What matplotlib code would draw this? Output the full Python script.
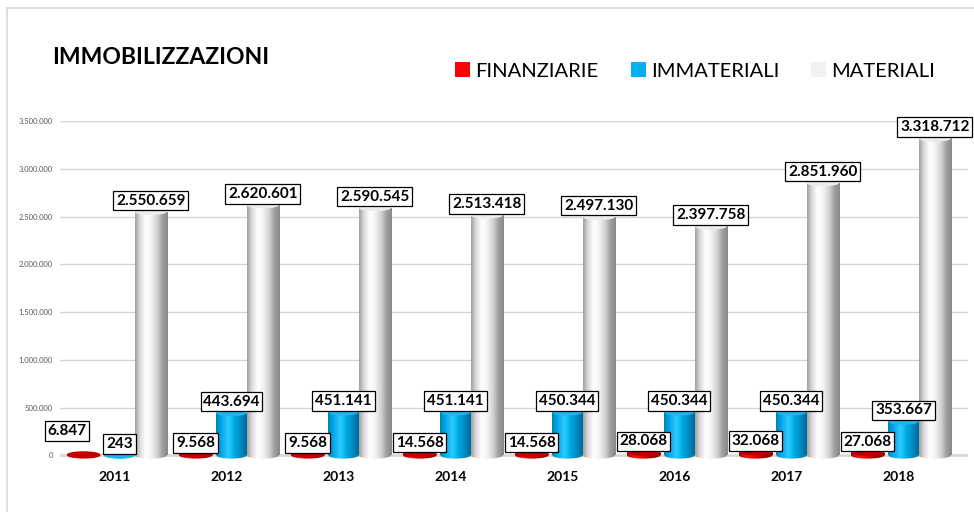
import numpy as np
import matplotlib
matplotlib.use("Agg")
import matplotlib.pyplot as plt
from matplotlib.colors import LinearSegmentedColormap
from matplotlib.patches import Rectangle, Ellipse, Patch
from matplotlib.lines import Line2D

plt.rcParams['font.family'] = ['Lato', 'DejaVu Sans']

years = ['2011', '2012', '2013', '2014', '2015', '2016', '2017', '2018']
finanziarie = [6847, 9568, 9568, 14568, 14568, 28068, 32068, 27068]
immateriali = [243, 443694, 451141, 451141, 450344, 450344, 450344, 353667]
materiali = [2550659, 2620601, 2590545, 2513418, 2497130, 2397758, 2851960, 3318712]
yticks = [0, 500000, 1000000, 1500000, 2000000, 2500000, 3000000, 3500000]


def fmt(v):
    return f"{v:,}".replace(",", ".")


fig = plt.figure(figsize=(9.74, 5.12), dpi=100)
ax = fig.add_axes([60 / 974, 1 - 461 / 512, 908 / 974, (461 - 121) / 512])

ymin, ymax = -60000, 3500000
xmin, xmax = -0.491, 7.616
cap_h = 70000
grad = np.linspace(0, 1, 256).reshape(1, -1)

series = [
    (finanziarie, -0.28, 0.30, ['#b00000', '#ff1a1a', '#e00000', '#a00000', '#800000'], '#c00000'),
    (immateriali, 0.04, 0.27, ['#0080b8', '#00b0f0', '#30c8ff', '#00aae8', '#0088c0', '#006a98'], '#19b8f2'),
    (materiali, 0.32, 0.29, ['#a0a0a0', '#e0e0e0', '#ffffff', '#f2f2f2', '#d4d4d4', '#a0a0a0', '#888888'], '#ececec'),
]


def cylinder(xc, w, top, colors, cap):
    cmap = LinearSegmentedColormap.from_list('c', colors)
    x0, x1 = xc - w / 2, xc + w / 2
    # bottom ellipse
    el = Ellipse((xc, 0), w, cap_h, transform=ax.transData)
    im = ax.imshow(grad, extent=(x0, x1, -cap_h / 2, cap_h / 2), aspect='auto',
                   cmap=cmap, zorder=3, interpolation='bilinear')
    im.set_clip_path(el)
    # body
    rect = Rectangle((x0, 0), w, top, transform=ax.transData)
    im2 = ax.imshow(grad, extent=(x0, x1, 0, max(top, 1)), aspect='auto',
                    cmap=cmap, zorder=3, interpolation='bilinear')
    im2.set_clip_path(rect)
    ax.add_patch(Ellipse((xc, top), w, cap_h, facecolor=cap, edgecolor='none', zorder=4))


for vals, off, w, colors, cap in series:
    for i, v in enumerate(vals):
        cylinder(i + off, w, v, colors, cap)

# data labels
bbox = dict(boxstyle='square,pad=0.18', fc='white', ec='black', lw=0.9)
for vals, off, w, colors, cap in series:
    for i, v in enumerate(vals):
        dx, dy = 0, 3
        if vals is finanziarie and i == 0:
            dx, dy = -12, 12
        ax.annotate(fmt(v), (i + off, v), xytext=(dx, dy), textcoords='offset points',
                    ha='center', va='bottom', fontsize=11, fontweight='bold',
                    color='black', bbox=bbox, zorder=6)

# gridlines and floor
for t in yticks[1:]:
    ax.axhline(t, color='#d4d4d4', lw=1.0, zorder=1)
ax.axhline(0, color='#d9d9d9', lw=2.0, zorder=1)

ax.set_xlim(xmin, xmax)
ax.set_ylim(ymin, ymax)
ax.set_yticks(yticks)
ax.set_yticklabels([fmt(t) for t in yticks], fontsize=5.5, color='#595959')
ax.set_xticks(range(len(years)))
ax.set_xticklabels(years, fontsize=10, fontweight='bold')
ax.tick_params(axis='both', length=0)
ax.tick_params(axis='y', pad=5)
ax.tick_params(axis='x', pad=7)
for s in ax.spines.values():
    s.set_visible(False)

# title and legend
fig.text(52 / 974, 1 - 58 / 512, 'IMMOBILIZZAZIONI', fontsize=16.5, fontweight='bold',
         ha='left', va='center')
handles = [Patch(facecolor='#ff0000', label='FINANZIARIE'),
           Patch(facecolor='#00b0f0', label='IMMATERIALI'),
           Patch(facecolor='#f2f2f2', label='MATERIALI')]
fig.legend(handles=handles, loc='center left', bbox_to_anchor=(445 / 974, 1 - 71 / 512),
           ncol=3, frameon=False, fontsize=14.5, handlelength=0.75, handleheight=0.75,
           handletextpad=0.25, columnspacing=1.6, borderpad=0)

# outer frame
fig.add_artist(Line2D([7 / 974, 7 / 974], [0, 1 - 8 / 512], color='#d9d9d9', lw=1.2))
fig.add_artist(Line2D([7 / 974, 1], [1 - 8 / 512, 1 - 8 / 512], color='#d9d9d9', lw=1.2))

fig.savefig('out.png', dpi=100)
